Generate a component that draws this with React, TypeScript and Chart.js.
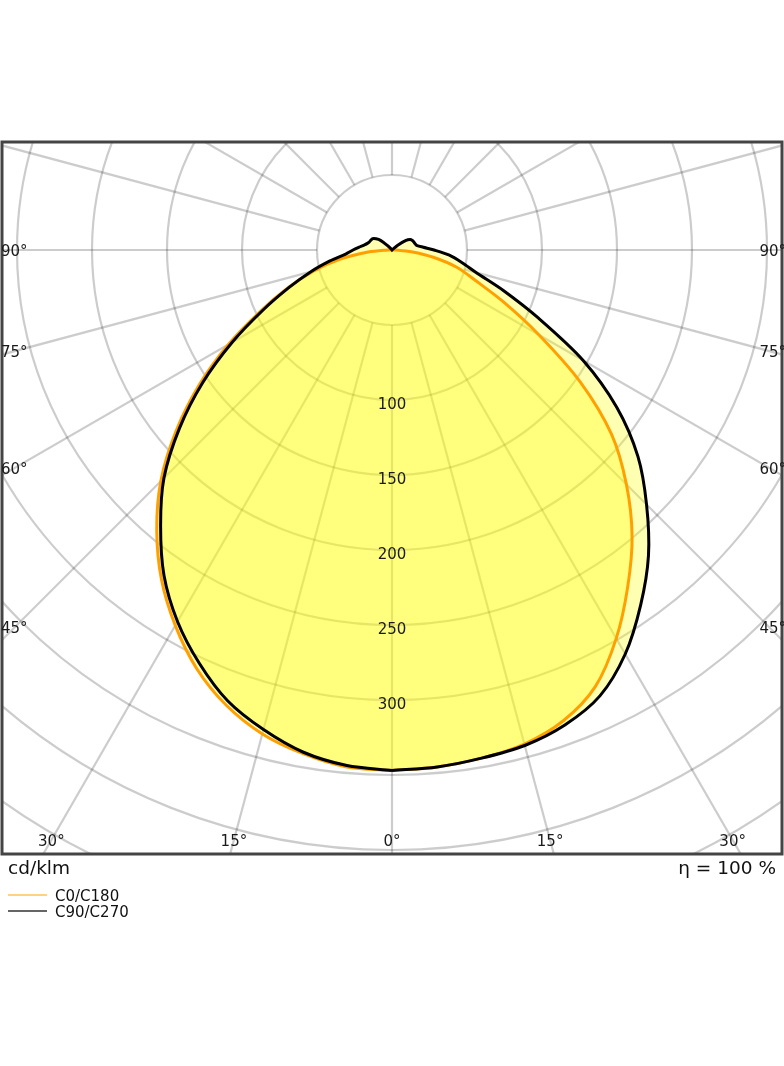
import React, { useEffect, useRef } from 'react';
import { Chart, registerables } from 'chart.js';

Chart.register(...registerables);

// gamma angles (deg from nadir), one half-plane each
const angles = [0, 5, 10, 15, 20, 25, 30, 35, 40, 45, 50, 55, 60, 65, 70, 75, 80, 85, 90,
  95, 100, 105, 110, 115, 120, 125, 130, 135, 140, 145, 150, 155, 160, 165, 170, 175, 180];

// cd/klm
const c0 = [347, 346, 344, 341, 334, 321, 299, 274, 249, 221, 191, 153, 113, 82, 59, 45, 28, 13, 3,
  0, 0, 0, 0, 0, 0, 0, 0, 0, 0, 0, 0, 0, 0, 0, 0, 0, 0];
const c180 = [347, 346, 341, 334, 323, 308, 289, 268, 244, 218, 188, 157, 126, 97, 74, 54, 35, 16, 3,
  0, 0, 0, 0, 0, 0, 0, 0, 0, 0, 0, 0, 0, 0, 0, 0, 0, 0];
const c90 = [347, 346, 344, 342, 337, 328, 311, 289, 266, 240, 214, 183, 147, 108, 79, 58, 47, 38, 28,
  21, 17, 16, 15.5, 15, 14, 11, 5, 1, 0, 0, 0, 0, 0, 0, 0, 0, 0];
const c270 = [347, 345, 340, 331, 320, 304, 286, 265, 240, 215, 185, 154, 123, 95, 73, 56, 42, 31, 26,
  22, 19, 17, 16, 15.5, 15, 13, 10, 4, 1, 0, 0, 0, 0, 0, 0, 0, 0];

const ringValues = [50, 100, 150, 200, 250, 300, 350, 400, 450, 500];
const ringLabels = [100, 150, 200, 250, 300];
const spokeAngles = [0, 15, 30, 45, 60, 75, 90, 105, 120, 135, 150, 165, 180, 195, 210, 225, 240,
  255, 270, 285, 300, 315, 330, 345];
const sideLabels = [90, 75, 60, 45];
const bottomLabels = [-30, -15, 0, 15, 30];

const rad = (d: number) => (d * Math.PI) / 180;

function outline(right: number[], left: number[]) {
  const pts = angles.map((a, i) => ({ x: right[i] * Math.sin(rad(a)), y: -right[i] * Math.cos(rad(a)) }));
  for (let i = angles.length - 1; i >= 0; i--) {
    pts.push({ x: -left[i] * Math.sin(rad(angles[i])), y: -left[i] * Math.cos(rad(angles[i])) });
  }
  return pts;
}

const FONT = '"DejaVu Sans", sans-serif';

const polarGrid = {
  id: 'polarGrid',
  // grid goes under the fills, so draw it before anything else
  beforeDraw(chart: any) {
    const { ctx, chartArea: a, scales: { x, y } } = chart;
    const cx = x.getPixelForValue(0);
    const cy = y.getPixelForValue(0);
    const k = x.getPixelForValue(1) - cx;
    ctx.save();
    ctx.beginPath();
    ctx.rect(a.left, a.top, a.right - a.left, a.bottom - a.top);
    ctx.clip();
    ctx.strokeStyle = 'rgba(0,0,0,0.2)';
    ctx.lineWidth = 2.2;
    for (const r of ringValues) {
      ctx.beginPath();
      ctx.arc(cx, cy, r * k, 0, Math.PI * 2);
      ctx.stroke();
    }
    for (const d of spokeAngles) {
      const s = Math.sin(rad(d));
      const c = Math.cos(rad(d));
      ctx.beginPath();
      ctx.moveTo(x.getPixelForValue(50 * s), y.getPixelForValue(-50 * c));
      ctx.lineTo(x.getPixelForValue(900 * s), y.getPixelForValue(-900 * c));
      ctx.stroke();
    }
    ctx.restore();
  },
  afterDatasetsDraw(chart: any) {
    const { ctx, scales: { x, y } } = chart;
    ctx.save();
    ctx.fillStyle = '#1a1a1a';
    ctx.font = `15px ${FONT}`;
    ctx.textAlign = 'center';
    ctx.textBaseline = 'middle';
    for (const v of ringLabels) {
      ctx.fillText(String(v), x.getPixelForValue(0), y.getPixelForValue(-v) + 5.5);
    }
    ctx.restore();
  },
  afterDraw(chart: any) {
    const { ctx, chartArea: a, scales: { x, y } } = chart;
    ctx.save();
    ctx.strokeStyle = '#444';
    ctx.lineWidth = 3;
    ctx.strokeRect(a.left, a.top, a.right - a.left, a.bottom - a.top);

    ctx.fillStyle = '#1a1a1a';
    ctx.font = `15px ${FONT}`;
    ctx.textBaseline = 'middle';
    const xv = Math.abs(x.getValueForPixel(a.left + 13));
    for (const d of sideLabels) {
      const yv = d === 90 ? 0 : -xv / Math.tan(rad(d));
      const py = y.getPixelForValue(yv) + 2.5;
      ctx.textAlign = 'left';
      ctx.fillText(`${d}°`, a.left - 1, py);
      ctx.textAlign = 'right';
      ctx.fillText(`${d}°`, a.right + 4, py);
    }
    const by = 840;
    const yb = Math.abs(y.getValueForPixel(by));
    ctx.textAlign = 'center';
    for (const d of bottomLabels) {
      ctx.fillText(`${Math.abs(d)}°`, x.getPixelForValue(yb * Math.tan(rad(d))), by + 2);
    }
    ctx.restore();
  },
};

export default function App() {
  const canvasRef = useRef<HTMLCanvasElement>(null);

  useEffect(() => {
    document.body.style.margin = '0';
    if (!canvasRef.current) return;
    const chart = new Chart(canvasRef.current, {
      type: 'scatter',
      data: {
        datasets: [
          {
            label: 'C90/C270',
            data: outline(c90, c270),
            showLine: true,
            borderColor: '#000',
            borderWidth: 3,
            backgroundColor: 'rgba(255,255,0,0.3)',
            fill: 'shape',
            pointRadius: 0,
            tension: 0.3,
          },
          {
            label: 'C0/C180',
            data: outline(c0, c180),
            showLine: true,
            borderColor: '#ffa000',
            borderWidth: 3,
            backgroundColor: 'rgba(255,255,0,0.3)',
            fill: 'shape',
            pointRadius: 0,
            tension: 0.3,
          },
        ],
      },
      options: {
        animation: false,
        responsive: false,
        events: [],
        layout: { padding: { left: 2, right: 2, top: 142, bottom: 212 } },
        scales: {
          x: { type: 'linear', min: -260, max: 260, display: false },
          y: { type: 'linear', min: -402.67, max: 72, display: false },
        },
        plugins: {
          legend: { display: false },
          tooltip: { enabled: false },
          filler: { drawTime: 'beforeDatasetsDraw' },
        },
      },
      plugins: [polarGrid],
    } as any);
    return () => chart.destroy();
  }, []);

  const text: React.CSSProperties = { position: 'absolute', fontFamily: FONT, color: '#111', whiteSpace: 'nowrap' };

  return (
    <div style={{ position: 'relative', width: 784, height: 1066, background: '#fff' }}>
      <canvas ref={canvasRef} width={784} height={1066} style={{ display: 'block' }} />
      <div style={{ ...text, left: 8, top: 858, fontSize: 18.5, lineHeight: '20px' }}>cd/klm</div>
      <div style={{ ...text, right: 8, top: 858, fontSize: 18.5, lineHeight: '20px' }}>η = 100 %</div>
      <div style={{ position: 'absolute', left: 8, top: 894, width: 39, height: 1.5, background: 'rgba(255,165,0,0.5)' }} />
      <div style={{ ...text, left: 55, top: 888, fontSize: 15, lineHeight: '16px' }}>C0/C180</div>
      <div style={{ position: 'absolute', left: 8, top: 910, width: 39, height: 1.5, background: 'rgba(0,0,0,0.6)' }} />
      <div style={{ ...text, left: 55, top: 904, fontSize: 15, lineHeight: '16px' }}>C90/C270</div>
    </div>
  );
}
